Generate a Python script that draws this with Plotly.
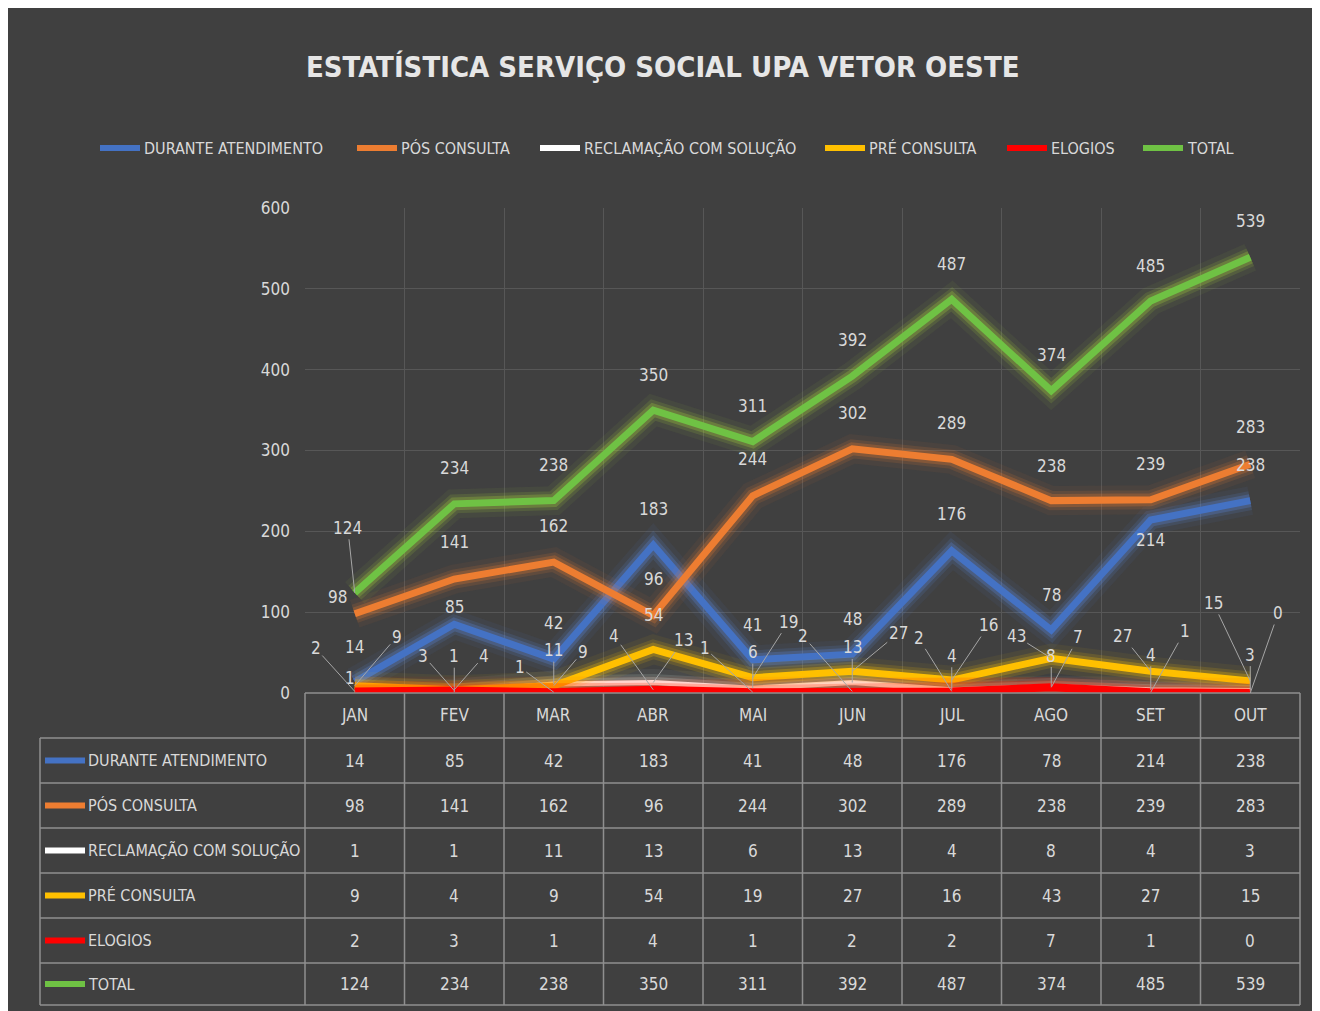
import plotly.graph_objects as go

MONTHS = ["JAN", "FEV", "MAR", "ABR", "MAI", "JUN", "JUL", "AGO", "SET", "OUT"]
SERIES_NAMES = ["DURANTE ATENDIMENTO", "PÓS CONSULTA", "RECLAMAÇÃO COM SOLUÇÃO",
                "PRÉ CONSULTA", "ELOGIOS", "TOTAL"]
DURANTE = [14, 85, 42, 183, 41, 48, 176, 78, 214, 238]
POS = [98, 141, 162, 96, 244, 302, 289, 238, 239, 283]
RECLAMACAO = [1, 1, 11, 13, 6, 13, 4, 8, 4, 3]
PRE = [9, 4, 9, 54, 19, 27, 16, 43, 27, 15]
ELOGIOS = [2, 3, 1, 4, 1, 2, 2, 7, 1, 0]
TOTAL = [124, 234, 238, 350, 311, 392, 487, 374, 485, 539]
Y_TICKS = [0, 100, 200, 300, 400, 500, 600]

SERIES = [DURANTE, POS, RECLAMACAO, PRE, ELOGIOS, TOTAL]
COLORS = ["#4472C4", "#ED7D31", "#FFFFFF", "#FFC000", "#FF0000", "#6FC244"]
GLOWS = ["rgba(90,140,230,{a})", "rgba(237,125,49,{a})", "rgba(220,240,230,{a})",
         "rgba(255,200,0,{a})", "rgba(255,40,0,{a})", "rgba(170,220,60,{a})"]
WIDTHS = [7, 7, 5, 7, 8, 7]

# label placement (pixel offsets from the point; leader = draw leader line)
LBL = [
    # DURANTE
    [(0, -35, 0), (0, -17, 0), (0, -36, 0), (0, -36, 0), (0, -35, 0),
     (0, -35, 0), (0, -37, 0), (0, -35, 0), (0, 20, 0), (0, -36, 0)],
    # POS
    [(-17, -17, 0), (0, -37, 0), (0, -36, 0), (0, -36, 0), (0, -37, 0),
     (0, -36, 0), (0, -36, 0), (0, -35, 0), (0, -36, 0), (0, -37, 0)],
    # RECLAMACAO
    [(-5, -14, 0), (0, -36, 1), (0, -34, 1), (30, -42, 1), (0, -36, 1),
     (0, -35, 1), (0, -34, 1), (0, -31, 1), (0, -35, 1), (0, -36, 1)],
    # PRE
    [(42, -49, 1), (30, -34, 1), (29, -34, 1), (0, -34, 0), (36, -56, 1),
     (46, -38, 1), (37, -55, 1), (-35, -22, 1), (-28, -35, 1), (-37, -78, 1)],
    # ELOGIOS
    [(-39, -43, 1), (-31, -35, 1), (-34, -25, 1), (-39, -54, 1), (-48, -44, 1),
     (-49, -55, 1), (-33, -53, 1), (27, -50, 1), (34, -61, 1), (28, -80, 1)],
    # TOTAL
    [(-7, -65, 1), (0, -36, 0), (0, -36, 0), (0, -35, 0), (0, -36, 0),
     (0, -36, 0), (0, -35, 0), (0, -36, 0), (0, -35, 0), (0, -36, 0)],
]

OFF = 8  # page body margin
W, H = 1320 - OFF, 1011 - OFF
L, R, T, B = 305, 1300, 208, 693  # plot area in screen pixels
FONT = "DejaVu Sans Condensed, Liberation Sans Narrow, Roboto, sans-serif"
TXT = "#d9d9d9"
BG = "#404040"
GRID = "#575757"
TLINE = "#8f8f8f"


def px(xp):
    return (xp - L) / (R - L)


def py(yp):
    return (B - yp) / (B - T)


def text_ann(x, y, text, size, xref="paper", yref="paper", xanchor="center", color=TXT, **kw):
    d = dict(x=x, y=y, xref=xref, yref=yref, text=text, showarrow=False,
             xanchor=xanchor, yanchor="middle",
             font=dict(family=FONT, size=size, color=color))
    d.update(kw)
    return d


fig = go.Figure()

for i, vals in enumerate(SERIES):
    for w_add, a in [(22, 0.06), (12, 0.14), (6, 0.25)]:
        fig.add_trace(go.Scatter(x=MONTHS, y=vals, mode="lines",
                                 line=dict(color=GLOWS[i].format(a=a), width=WIDTHS[i] + w_add),
                                 hoverinfo="skip", showlegend=False, cliponaxis=False))
    fig.add_trace(go.Scatter(x=MONTHS, y=vals, mode="lines", name=SERIES_NAMES[i],
                             line=dict(color=COLORS[i], width=WIDTHS[i]),
                             showlegend=False, cliponaxis=False))

ann = []
# data labels
for i, vals in enumerate(SERIES):
    for j, v in enumerate(vals):
        dx, dy, leader = LBL[i][j]
        if leader:
            ann.append(dict(x=MONTHS[j], y=v, xref="x", yref="y", text=str(v),
                            showarrow=True, arrowhead=0, arrowwidth=1, arrowcolor="#a6a6a6",
                            ax=dx, ay=dy, standoff=0, xanchor="center", yanchor="middle",
                            font=dict(family=FONT, size=17, color=TXT)))
        else:
            ann.append(text_ann(MONTHS[j], v, str(v), 17, xref="x", yref="y",
                                xshift=dx, yshift=-dy))

# title
ann.append(text_ann(px(663), py(67), "<b>ESTATÍSTICA SERVIÇO SOCIAL UPA VETOR OESTE</b>",
                    29, color="#e6e6e6"))

shapes = []
# dark background panel
shapes.append(dict(type="rect", xref="paper", yref="paper", x0=px(8), x1=px(1318),
                   y0=py(1011), y1=py(8), fillcolor=BG, line=dict(width=0), layer="below"))

# top legend
LEG_X = [100, 357, 540, 825, 1007, 1143]
for i, name in enumerate(SERIES_NAMES):
    x0 = LEG_X[i]
    shapes.append(dict(type="line", xref="paper", yref="paper", x0=px(x0), x1=px(x0 + 40),
                       y0=py(148), y1=py(148), line=dict(color=COLORS[i], width=6)))
    ann.append(text_ann(px(x0 + 42), py(148), name, 16, xanchor="left"))

# data table
ROW_Y = [693, 738, 783, 828, 873, 918, 963, 1005]
COL_X = [L + k * (R - L) / 10 for k in range(11)]
for k, yy in enumerate(ROW_Y):
    xs = 40 if k >= 1 else L
    shapes.append(dict(type="line", xref="paper", yref="paper", x0=px(xs), x1=px(R),
                       y0=py(yy), y1=py(yy), line=dict(color=TLINE, width=1.5)))
for xx in COL_X:
    shapes.append(dict(type="line", xref="paper", yref="paper", x0=px(xx), x1=px(xx),
                       y0=py(693), y1=py(1005), line=dict(color=TLINE, width=1.5)))
shapes.append(dict(type="line", xref="paper", yref="paper", x0=px(40), x1=px(40),
                   y0=py(738), y1=py(1005), line=dict(color=TLINE, width=1.5)))

for j, m in enumerate(MONTHS):
    ann.append(text_ann(m, py(715), m, 17, xref="x"))
for i, vals in enumerate(SERIES):
    yc = (ROW_Y[i + 1] + ROW_Y[i + 2]) / 2
    shapes.append(dict(type="line", xref="paper", yref="paper", x0=px(45), x1=px(85),
                       y0=py(yc), y1=py(yc), line=dict(color=COLORS[i], width=6)))
    ann.append(text_ann(px(86), py(yc), SERIES_NAMES[i], 16, xanchor="left"))
    for j, v in enumerate(vals):
        ann.append(text_ann(MONTHS[j], py(yc), str(v), 17, xref="x"))

fig.update_layout(
    width=W, height=H,
    margin=dict(l=L - OFF, r=W - (R - OFF), t=T - OFF, b=H - (B - OFF), pad=0),
    paper_bgcolor="#ffffff", plot_bgcolor=BG,
    annotations=ann, shapes=shapes, showlegend=False,
    xaxis=dict(type="category", range=[-0.5, 9.5], showticklabels=False, showgrid=True,
               tickson="boundaries", gridcolor=GRID, gridwidth=1, zeroline=False,
               showline=False, ticks=""),
    yaxis=dict(range=[0, 600], tickvals=Y_TICKS, showgrid=True, gridcolor=GRID, gridwidth=1,
               zeroline=False, showline=False, ticks="", ticklabelstandoff=14,
               tickfont=dict(family=FONT, size=17, color=TXT)),
)

fig.write_html("out.html")
